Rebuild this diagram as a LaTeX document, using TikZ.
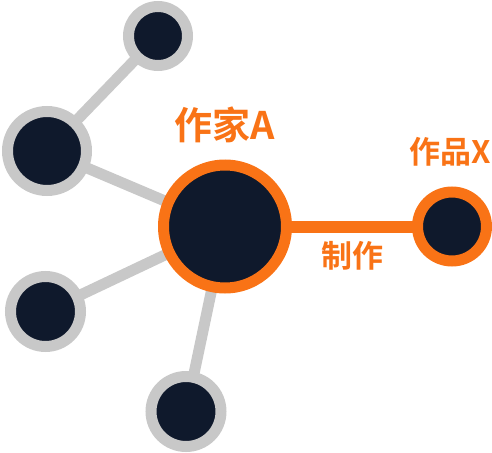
\documentclass[tikz,border=0pt]{standalone}
\usepackage{fontspec}
\newfontfamily\cjk{Noto Sans CJK SC}[BoldFont={* Bold}]
\definecolor{navy}{HTML}{0F192C}
\definecolor{ring}{HTML}{C8C8C8}
\definecolor{accent}{HTML}{F97316}
\begin{document}
\begin{tikzpicture}[x=1pt,y=-1pt,
  graynode/.style={circle,fill=navy,draw=ring,line width=11pt,inner sep=0pt},
  orangenode/.style={circle,fill=navy,draw=accent,line width=11pt,inner sep=0pt},
  grayedge/.style={draw=ring,line width=11pt},
  orangeedge/.style={draw=accent,line width=12pt},
  lbl/.style={text=accent,font=\cjk\bfseries,inner sep=0pt}]
\useasboundingbox (0,0) rectangle (492,452);
\coordinate (pc) at (225,226.5);
\coordinate (ptl) at (158,36);
\coordinate (plm) at (47,151);
\coordinate (pll) at (45.5,311.5);
\coordinate (pb) at (186,411.5);
\coordinate (pr) at (452,226.5);
\draw[grayedge] (ptl) -- (plm);
\draw[grayedge] (plm) -- (pc);
\draw[grayedge] (pll) -- (pc);
\draw[grayedge] (pb) -- (pc);
\draw[orangeedge] (pc) -- (pr);
\node[orangenode,minimum size=123pt] (c) at (pc) {};
\node[graynode,minimum size=59pt] (tl) at (ptl) {};
\node[graynode,minimum size=79pt] (lm) at (plm) {};
\node[graynode,minimum size=70pt] (ll) at (pll) {};
\node[graynode,minimum size=70pt] (b) at (pb) {};
\node[orangenode,minimum size=69pt] (r) at (pr) {};
\node[lbl,font=\cjk\bfseries\fontsize{38}{40}\selectfont] (la) at (225,125) {作家A};
\node[lbl,font=\cjk\bfseries\fontsize{31}{33}\selectfont] (lx) at (450,152) {作品X};
\node[lbl,font=\cjk\bfseries\fontsize{31}{33}\selectfont] (le) at (352,256) {制作};
\end{tikzpicture}
\end{document}
